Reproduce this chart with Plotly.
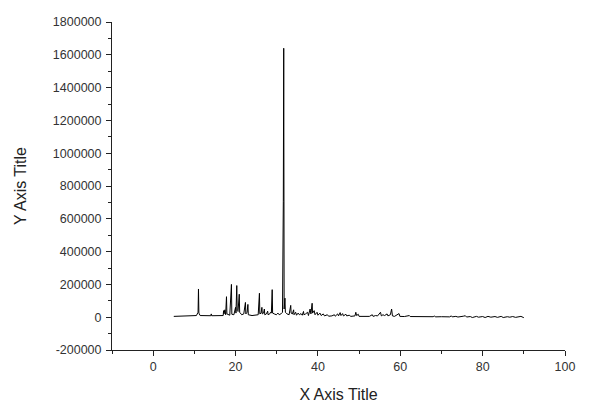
import plotly.graph_objects as go

# 2-theta positions and intensities
two_theta = [
    5.0, 7.0, 8.0, 10.5, 10.9, 11.0, 11.1, 11.4, 14.0, 14.1, 14.2,
    17.0, 17.1, 17.2, 17.4, 17.6, 17.8, 17.9, 18.6, 19.0, 19.1, 19.6,
    20.0, 20.1, 20.3, 20.4, 20.6, 20.9, 21.0, 21.5, 22.0, 22.4, 22.5,
    22.8, 23.0, 23.1, 24.0, 25.0, 25.5, 25.8, 25.9, 26.2, 26.4, 26.5,
    26.8, 27.0, 27.1, 27.5, 27.8, 27.9, 28.3, 28.5, 28.7, 28.9, 29.0,
    29.4, 29.9, 30.3, 30.6, 31.0, 31.4, 31.6, 31.7, 31.8, 32.0, 32.1,
    32.5, 33.0, 33.4, 33.5, 33.8, 34.1, 34.2, 34.6, 34.8, 35.2, 35.5,
    35.9, 36.2, 36.5, 36.6, 37.0, 37.5, 37.7, 38.1, 38.3, 38.6, 38.7,
    39.1, 39.3, 39.8, 40.0, 40.5, 40.8, 41.3, 41.6, 42.3, 42.6, 43.4,
    44.0, 44.2, 44.8, 45.0, 45.4, 45.6, 46.0, 46.2, 46.8, 47.0, 47.6,
    48.0, 49.0, 49.2, 49.4, 49.8, 50.0, 51.0, 52.5, 53.2, 53.4, 54.0,
    54.5, 55.2, 55.4, 55.8, 56.2, 56.8, 57.0, 57.6, 57.9, 58.1, 58.6,
    59.7, 59.9, 61.0, 62.2, 62.4, 64.0, 65.5, 65.7, 68.0, 68.3, 68.5,
    70.0, 72.0, 72.4, 72.6, 73.5, 74.0, 75.3, 75.8, 76.1, 77.0, 77.5,
    78.5, 79.0, 80.0, 80.6, 81.3, 82.0, 83.0, 83.6, 84.5, 85.0, 86.0,
    86.6, 87.3, 88.0, 88.6, 89.3, 90.0,
]
intensity = [
    5000, 6000, 9000, 10000, 30000, 172000, 25000, 10000, 9000, 20000, 9000,
    10000, 40000, 20000, 45000, 15000, 125000, 20000, 12000, 200000, 18000, 15000,
    60000, 25000, 193000, 40000, 35000, 140000, 30000, 15000, 20000, 90000, 20000,
    30000, 78000, 15000, 10000, 12000, 15000, 146000, 20000, 25000, 60000, 20000,
    25000, 50000, 15000, 20000, 37000, 15000, 20000, 30000, 25000, 168000, 25000,
    20000, 15000, 25000, 15000, 20000, 30000, 707000, 1640000, 50000, 116000, 30000,
    20000, 15000, 72000, 25000, 20000, 45000, 15000, 30000, 12000, 25000, 15000,
    22000, 12000, 35000, 15000, 20000, 30000, 10000, 50000, 20000, 85000, 25000,
    40000, 15000, 30000, 12000, 25000, 10000, 20000, 8000, 15000, 6000, 8000,
    15000, 6000, 20000, 8000, 28000, 10000, 22000, 8000, 18000, 8000, 12000,
    5000, 8000, 30000, 10000, 18000, 5000, 4000, 5000, 15000, 5000, 10000,
    8000, 30000, 8000, 15000, 10000, 20000, 8000, 15000, 50000, 8000, 5000,
    22000, 5000, 4000, 10000, 4000, 3000, 6000, 2000, 3000, 8000, 2000,
    3000, 2000, 8000, 2000, 5000, 1000, 6000, 9000, 1000, 4000, -2000,
    5000, 0, 4000, -2000, 5000, 0, 4000, -1000, 5000, -2000, 3000,
    0, 4000, -1000, 3000, 5000, -3000,
]

y_tick_values = [-200000, 0, 200000, 400000, 600000, 800000, 1000000,
                 1200000, 1400000, 1600000, 1800000]
y_tick_labels = ["-200000", "0", "200000", "400000", "600000", "800000",
                 "1000000", "1200000", "1400000", "1600000", "1800000"]

fig = go.Figure(go.Scatter(
    x=two_theta,
    y=intensity,
    mode="lines",
    line=dict(color="black", width=1),
    showlegend=False,
))

axis_font = dict(family="Arial, Liberation Sans, sans-serif", size=12.5, color="#333")
title_font = dict(family="Arial, Liberation Sans, sans-serif", size=16, color="#222")

fig.update_xaxes(
    range=[-10, 100],
    tick0=0,
    dtick=20,
    ticks="outside",
    ticklen=5,
    tickcolor="#222",
    minor=dict(ticks="outside", ticklen=3, dtick=10, tickcolor="#222"),
    showline=True,
    linecolor="#222",
    linewidth=1,
    showgrid=False,
    zeroline=False,
    automargin=False,
    tickfont=axis_font,
    title=dict(text="X Axis Title", font=title_font, standoff=15),
)
fig.update_yaxes(
    range=[-200000, 1800000],
    tickmode="array",
    tickvals=y_tick_values,
    ticktext=y_tick_labels,
    ticks="outside",
    ticklen=5,
    tickcolor="#222",
    ticklabelstandoff=2,
    minor=dict(ticks="outside", ticklen=3, dtick=100000, tick0=0, tickcolor="#222"),
    showline=True,
    linecolor="#222",
    linewidth=1,
    showgrid=False,
    zeroline=False,
    automargin=False,
    tickfont=axis_font,
    title=dict(text="Y Axis Title", font=title_font, standoff=22),
)

fig.update_layout(
    width=600,
    height=406,
    margin=dict(l=112, r=35, t=22, b=56),
    plot_bgcolor="white",
    paper_bgcolor="white",
)

fig.write_html(
    "out.html",
    config={"displayModeBar": False},
    post_script="document.body.style.margin = '0';",
)
